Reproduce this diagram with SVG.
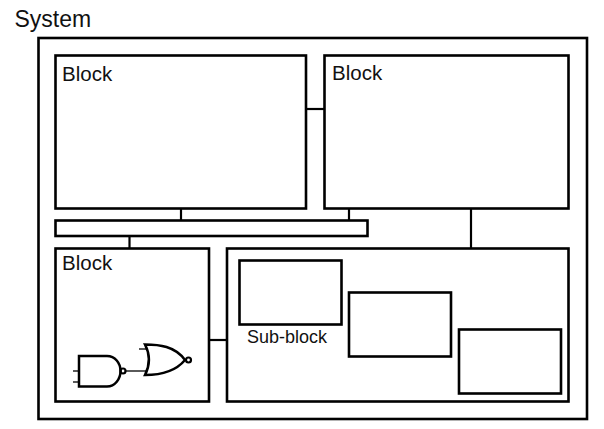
<svg xmlns="http://www.w3.org/2000/svg" width="604" height="429" viewBox="0 0 604 429">
<style>
rect.box{fill:none;stroke:#000;stroke-width:2.600}
line.wire{stroke:#000;stroke-width:2.200}
.gate path{fill:none;stroke:#000;stroke-width:2.500}
.gate circle{fill:none;stroke:#000;stroke-width:2.200}
.pin{stroke:#000;stroke-width:1.300}
text{font-family:"Liberation Sans",Arial,sans-serif;fill:#111}
</style>
<rect width="604" height="429" fill="#fff"/>
<g id="system">
<rect class="box" x="38.500" y="38" width="548.500" height="381"/>
<text x="14.500" y="26.500" font-size="23">System</text>
</g>
<g id="connectors">
<line class="wire" x1="306" y1="109" x2="325" y2="109"/>
<line class="wire" x1="181" y1="208" x2="181" y2="220"/>
<line class="wire" x1="349" y1="208" x2="349" y2="220"/>
<line class="wire" x1="129.500" y1="236" x2="129.500" y2="248"/>
<line class="wire" x1="471" y1="208" x2="471" y2="248"/>
<line class="wire" x1="209" y1="340" x2="227" y2="340"/>
</g>
<g id="block-top-left">
<rect class="box" x="55.500" y="55.500" width="250.500" height="153"/>
<text x="62" y="81" font-size="20.500">Block</text>
</g>
<g id="block-top-right">
<rect class="box" x="324.500" y="55.500" width="244" height="153"/>
<text x="332" y="80" font-size="20.500">Block</text>
</g>
<g id="bus">
<rect class="box" x="55.500" y="220.500" width="312" height="15.500"/>
</g>
<g id="block-bottom-left">
<rect class="box" x="55.500" y="248.500" width="153.500" height="153"/>
<text x="62" y="270" font-size="20.500">Block</text>
</g>
<g id="gates" class="gate">
<line class="pin" x1="73" y1="371" x2="79" y2="371"/>
<line class="pin" x1="73" y1="382" x2="79" y2="382"/>
<line class="pin" x1="139" y1="349" x2="146" y2="349"/>
<path d="M79 356H107C115 356 120.500 363 120.500 371C120.500 379 115 386.500 107 386.500H79Z"/>
<circle cx="123" cy="371" r="2.500"/>
<line class="pin" x1="125" y1="371" x2="146" y2="371"/>
<path d="M145 344.500C159 344.500 175 346 185 360C175 372 159 375 145 375C150 365 150 354 145 344.500Z"/>
<circle cx="188.500" cy="360" r="2.500"/>
</g>
<g id="block-bottom-right">
<rect class="box" x="227" y="248.500" width="341.500" height="153"/>
</g>
<g id="sub-block-1">
<rect class="box" x="239.500" y="260.500" width="102" height="64"/>
<text x="247" y="343" font-size="18">Sub-block</text>
</g>
<g id="sub-block-2">
<rect class="box" x="349" y="292.500" width="102" height="64"/>
</g>
<g id="sub-block-3">
<rect class="box" x="459" y="329.500" width="102" height="64"/>
</g>
</svg>
